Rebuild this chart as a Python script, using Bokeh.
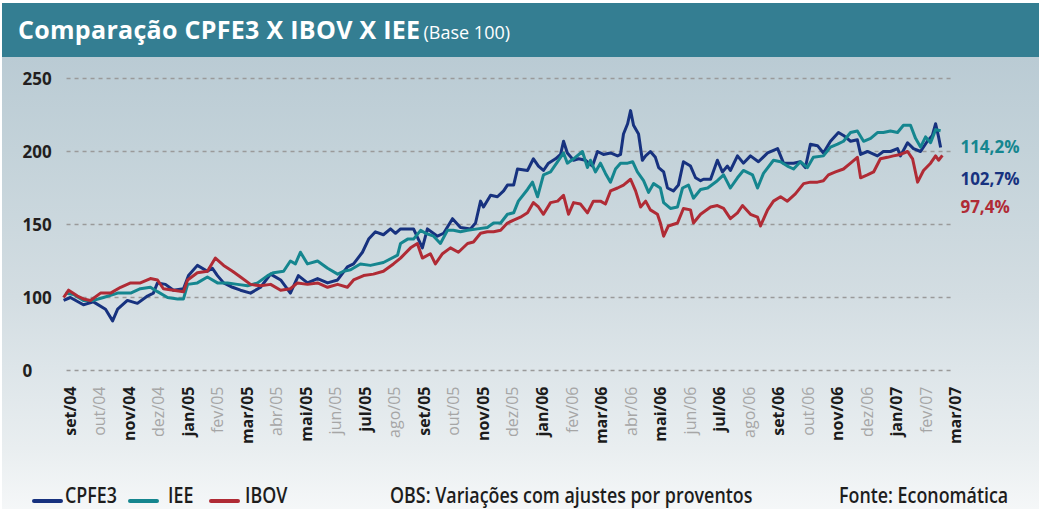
import math
from bokeh.plotting import figure
from bokeh.models import Range1d, Div, ColumnDataSource
from bokeh.layouts import column
from bokeh.embed import file_html
from bokeh.resources import INLINE
from bokeh.core.properties import value

# ---------------- data ----------------
months = ["set/04", "out/04", "nov/04", "dez/04", "jan/05", "fev/05", "mar/05", "abr/05",
          "mai/05", "jun/05", "jul/05", "ago/05", "set/05", "out/05", "nov/05", "dez/05",
          "jan/06", "fev/06", "mar/06", "abr/06", "mai/06", "jun/06", "jul/06", "ago/06",
          "set/06", "out/06", "nov/06", "dez/06", "jan/07", "fev/07", "mar/07"]

y_ticks = [50, 100, 150, 200, 250]
y_tick_labels = ["0", "100", "150", "200", "250"]

# time in months since set/04 (fractional)
cpfe3_t = [-0.20, 0.03, 0.47, 0.81, 1.22, 1.46, 1.63, 1.96, 2.30, 2.64, 2.84, 2.98, 3.25, 3.52, 3.86,
           4.03, 4.33, 4.67, 4.84, 5.01, 5.22, 5.52, 5.79, 6.13, 6.47, 6.81, 7.15, 7.48, 7.75, 8.06,
           8.40, 8.74, 9.08, 9.41, 9.62, 9.92, 10.13, 10.36, 10.63, 10.87, 11.04, 11.21, 11.65, 11.95,
           12.12, 12.46, 12.67, 12.97, 13.24, 13.58, 13.75, 13.92, 14.02, 14.26, 14.49, 14.70, 14.83,
           15.04, 15.17, 15.51, 15.71, 15.88, 16.05, 16.22, 16.46, 16.63, 16.73, 16.86, 17.07, 17.24,
           17.47, 17.71, 17.88, 18.08, 18.32, 18.56, 18.66, 18.76, 18.90, 19.00, 19.10, 19.27, 19.40,
           19.51, 19.67, 19.84, 19.95, 20.12, 20.25, 20.45, 20.62, 20.79, 21.03, 21.20, 21.37, 21.47,
           21.71, 21.94, 22.11, 22.28, 22.38, 22.62, 22.82, 23.06, 23.33, 23.64, 23.98, 24.18, 24.52,
           24.75, 24.92, 25.09, 25.33, 25.53, 25.77, 26.04, 26.21, 26.45, 26.68, 26.79, 27.02, 27.36,
           27.56, 27.80, 28.04, 28.14, 28.38, 28.58, 28.82, 29.05, 29.22, 29.33, 29.43, 29.50]
cpfe3_v = [98, 100, 95, 97, 92, 84, 92, 98, 96, 101, 103, 110, 109, 105, 106,
           115, 122, 118, 120, 115, 110, 107, 105, 103, 107, 116, 112, 103, 115, 110,
           113, 110, 112, 121, 123, 131, 140, 145, 143, 147, 144, 147, 147, 134,
           147, 142, 144, 154, 148, 147, 151, 166, 162, 170, 169, 173, 177,
           177, 188, 187, 195, 190, 187, 192, 195, 198, 207, 199, 194, 195,
           194, 190, 200, 198, 199, 197, 198, 212, 219, 228, 218, 212, 194,
           197, 200, 196, 189, 186, 175, 173, 177, 193, 190, 182, 180, 181,
           181, 194, 186, 190, 187, 197, 192, 197, 193, 199, 202, 192, 192,
           193, 189, 205, 204, 199, 207, 213, 211, 207, 208, 198, 200, 197,
           200, 200, 202, 197, 206, 202, 200, 207, 211, 219, 210, 202.7]

iee_t = [-0.14, 0.14, 0.47, 0.81, 1.15, 1.63, 2.07, 2.40, 2.74, 2.98, 3.32, 3.66, 3.86, 4.00, 4.33,
         4.67, 5.01, 5.35, 5.69, 6.03, 6.37, 6.71, 6.91, 7.25, 7.48, 7.65, 7.82, 8.06, 8.40, 8.74,
         9.08, 9.28, 9.52, 9.85, 10.19, 10.63, 11.11, 11.21, 11.45, 11.65, 11.89, 12.06, 12.33,
         12.56, 12.80, 13.00, 13.24, 13.48, 13.82, 14.15, 14.36, 14.60, 14.83, 15.04, 15.20, 15.51,
         15.68, 15.85, 16.05, 16.29, 16.53, 16.73, 16.86, 17.07, 17.37, 17.54, 17.64, 17.81, 17.98,
         18.15, 18.32, 18.49, 18.66, 18.90, 19.07, 19.23, 19.44, 19.61, 19.78, 20.01, 20.12, 20.35,
         20.59, 20.76, 20.96, 21.13, 21.37, 21.61, 21.94, 22.15, 22.38, 22.62, 22.82, 23.13, 23.30,
         23.50, 23.84, 24.08, 24.31, 24.52, 24.75, 24.99, 25.19, 25.53, 25.77, 26.01, 26.21, 26.45,
         26.68, 26.89, 27.13, 27.36, 27.56, 27.80, 28.04, 28.24, 28.48, 28.65, 28.82, 28.99, 29.16,
         29.33, 29.50]
iee_v = [103, 102, 98, 98, 100, 103, 103, 106, 107, 104, 100, 99, 99, 109, 110,
         114, 110, 110, 109, 108, 110, 115, 117, 118, 125, 123, 131, 123, 125, 120,
         116, 118, 119, 123, 122, 124, 129, 137, 140, 140, 146, 144, 142,
         137, 146, 146, 145, 146, 147, 148, 151, 151, 157, 158, 166, 174,
         179, 169, 184, 186, 193, 199, 192, 195, 200, 189, 194, 186, 192,
         185, 179, 188, 192, 192, 193, 186, 180, 172, 178, 175, 165, 161,
         162, 175, 177, 168, 174, 175, 180, 184, 175, 182, 187, 184, 175,
         185, 194, 193, 190, 188, 193, 189, 196, 197, 203, 205, 207, 213,
         214, 207, 209, 213, 213, 214, 213, 218, 218, 209, 203, 210, 206,
         215, 214.2]

ibov_t = [-0.20, -0.03, 0.27, 0.47, 0.71, 1.05, 1.39, 1.73, 2.07, 2.40, 2.74, 2.98, 3.18, 3.52, 3.86,
          4.00, 4.33, 4.67, 4.94, 5.22, 5.52, 5.79, 6.13, 6.47, 6.81, 7.15, 7.48, 7.72, 8.06, 8.40,
          8.74, 9.08, 9.41, 9.62, 9.96, 10.29, 10.63, 10.97, 11.21, 11.55, 11.78, 11.95, 12.22,
          12.39, 12.63, 12.90, 13.17, 13.48, 13.68, 13.92, 14.15, 14.36, 14.60, 14.83, 15.04, 15.27,
          15.51, 15.71, 15.88, 16.05, 16.29, 16.53, 16.73, 16.90, 17.07, 17.30, 17.54, 17.74, 17.98,
          18.15, 18.32, 18.56, 18.76, 19.00, 19.17, 19.34, 19.51, 19.67, 19.91, 20.01, 20.12, 20.28,
          20.59, 20.79, 21.03, 21.13, 21.37, 21.71, 21.94, 22.15, 22.38, 22.62, 22.79, 23.06, 23.30,
          23.40, 23.64, 23.84, 24.08, 24.31, 24.58, 24.86, 25.09, 25.33, 25.53, 25.70, 25.94, 26.21,
          26.45, 26.68, 26.79, 27.02, 27.23, 27.46, 27.70, 27.90, 28.14, 28.38, 28.55, 28.72, 28.92,
          29.16, 29.33, 29.43, 29.56]
ibov_v = [100, 105, 101, 99, 98, 103, 103, 107, 110, 110, 113, 112, 106, 105, 104,
          112, 117, 118, 127, 122, 118, 114, 109, 108, 109, 105, 106, 110, 109, 110,
          107, 109, 107, 112, 115, 116, 118, 123, 127, 134, 137, 127, 130,
          123, 130, 134, 131, 137, 138, 144, 145, 145, 146, 151, 153, 155,
          158, 165, 162, 157, 165, 166, 170, 157, 165, 164, 158, 166, 166,
          164, 173, 175, 177, 181, 173, 162, 166, 160, 157, 151, 142, 149,
          151, 161, 160, 151, 157, 162, 163, 161, 154, 158, 163, 157, 155,
          149, 160, 166, 169, 166, 171, 178, 179, 179, 180, 184, 186, 188,
          192, 196, 182, 184, 186, 195, 196, 197, 198, 200, 195, 179, 187,
          192, 197, 194, 197.4]

series_names = ["CPFE3", "IEE", "IBOV"]
series_colors = ["#17327f", "#15868f", "#b02b35"]
final_labels = ["114,2%", "102,7%", "97,4%"]
final_label_colors = ["#15868f", "#17327f", "#b02b35"]

FONT = "Open Sans"

# ---------------- figure ----------------
p = figure(width=1037, height=405,
           x_range=Range1d(-2.2689, 32.848), y_range=Range1d(-13.01, 264.38),
           x_axis_type=None, y_axis_type=None,
           output_backend="svg", toolbar_location=None,
           min_border=0, min_border_left=0, min_border_right=0,
           min_border_top=0, min_border_bottom=0,
           background_fill_alpha=0, border_fill_alpha=0, outline_line_color=None)
p.xgrid.visible = False
p.ygrid.visible = False

# dashed reference lines at tick values
grid_x0 = -0.1
grid_x1 = 29.9
p.segment(x0=[grid_x0] * len(y_ticks), y0=y_ticks, x1=[grid_x1] * len(y_ticks), y1=y_ticks,
          line_color="#9a9a9a", line_width=1.5, line_dash="4 4")

# y tick labels (left aligned, as in the original)
p.text(x=[-1.59] * len(y_ticks), y=y_ticks, text=y_tick_labels,
       text_font=value(FONT), text_font_style="bold", text_font_size="17px",
       text_color="#231f20", text_align="left", text_baseline="middle")

# series
for t, v, c in [(cpfe3_t, cpfe3_v, series_colors[0]),
                (iee_t, iee_v, series_colors[1]),
                (ibov_t, ibov_v, series_colors[2])]:
    p.line(t, v, line_color=c, line_width=3, line_join="round")

# month labels (vertical), alternating black bold / grey
label_top = 39.0
idx = list(range(len(months)))
main_src = ColumnDataSource(dict(x=[i for i in idx if i % 2 == 0],
                                 y=[label_top] * len(idx[::2]),
                                 text=[months[i] for i in idx if i % 2 == 0]))
minor_src = ColumnDataSource(dict(x=[i for i in idx if i % 2 == 1],
                                  y=[label_top] * len(idx[1::2]),
                                  text=[months[i] for i in idx if i % 2 == 1]))
p.text(x="x", y="y", text="text", source=main_src, angle=math.pi / 2,
       text_font=value(FONT), text_font_style="bold", text_font_size="16px",
       text_color="#1b1b1b", text_align="right", text_baseline="middle")
p.text(x="x", y="y", text="text", source=minor_src, angle=math.pi / 2,
       text_font=value(FONT), text_font_style="normal", text_font_size="16px",
       text_color="#a6a6a6", text_align="right", text_baseline="middle")

# final percentage labels at the right
end_x = 30.17
top_y = iee_v[-1] - 10.8
p.text(x=[end_x] * 3, y=[top_y, top_y - 21.9, top_y - 41.1], text=final_labels,
       text_color=final_label_colors, text_font=value(FONT), text_font_style="bold",
       text_font_size="17px", text_align="left", text_baseline="middle")

# ---------------- title and legend ----------------
title = Div(
    text=('<div style="font-family:\'Open Sans\';color:#ffffff;white-space:nowrap;'
          'line-height:25px;padding-left:16px;padding-top:14px;">'
          '<span style="font-weight:700;font-size:25px;letter-spacing:0.3px;">Comparação CPFE3 X IBOV X IEE</span>'
          ' <span style="font-weight:400;font-size:18px;">(Base 100)</span></div>'),
    width=1037, height=54, margin=0,
    styles={"background-color": "#347e92", "height": "54px", "min-height": "54px",
            "box-sizing": "border-box"})


def swatch(left, color):
    return (f'<span style="position:absolute;left:{left}px;top:37px;width:31px;height:4px;'
            f'background:{color};border-radius:2px;"></span>')


def label(left, txt):
    return (f'<span style="position:absolute;left:{left}px;top:23px;font-size:21px;'
            f'line-height:21px;font-weight:600;color:#1d1d1d;white-space:nowrap;'
            f'transform:scaleX(0.85);transform-origin:0 0;">{txt}</span>')


legend_html = ('<div style="position:relative;width:1037px;height:47px;font-family:\'Open Sans\';">'
               + swatch(30, series_colors[0]) + label(63, series_names[0])
               + swatch(126, series_colors[1]) + label(166, series_names[1])
               + swatch(207, series_colors[2]) + label(243, series_names[2])
               + label(388, "OBS: Variações com ajustes por proventos")
               + label(837, "Fonte: Economática")
               + '</div>')
legend = Div(text=legend_html, width=1037, height=47, margin=0,
             styles={"height": "47px", "min-height": "47px"})

layout = column(title, p, legend, spacing=0, width=1037, margin=(3, 0, 0, 2),
                styles={"background": "linear-gradient(to bottom, #bacbd4 0%, #bacbd4 10.7%, "
                                      "#c3d2d9 29%, #d3dde2 58%, #dde5e9 72%, #e9eef0 88%, #f5f7f8 100%)"})

open("out.html", "w").write(file_html(layout, INLINE))
